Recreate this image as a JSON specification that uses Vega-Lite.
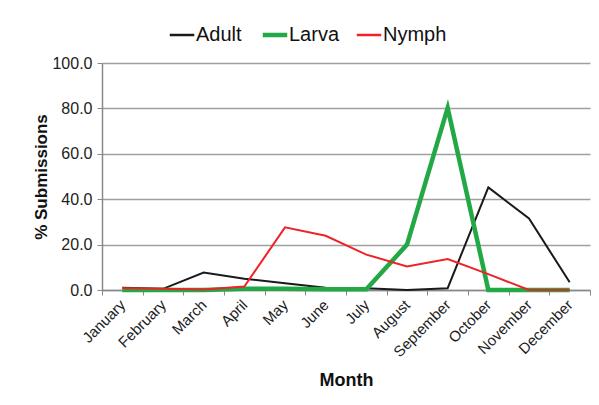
{
  "$schema": "https://vega.github.io/schema/vega-lite/v6.json",
  "autosize": "none",
  "width": 488,
  "height": 227,
  "padding": {"left": 102, "top": 63, "right": 9, "bottom": 115},
  "background": "white",
  "config": {
    "font": "Liberation Sans",
    "view": {"stroke": null}
  },
  "data": {
    "values": [
      {"Month": "January", "Stage": "Adult", "Pct": 1.0},
      {"Month": "February", "Stage": "Adult", "Pct": 0.5},
      {"Month": "March", "Stage": "Adult", "Pct": 7.7},
      {"Month": "April", "Stage": "Adult", "Pct": 5.0},
      {"Month": "May", "Stage": "Adult", "Pct": 3.0},
      {"Month": "June", "Stage": "Adult", "Pct": 1.0},
      {"Month": "July", "Stage": "Adult", "Pct": 0.8},
      {"Month": "August", "Stage": "Adult", "Pct": 0.0},
      {"Month": "September", "Stage": "Adult", "Pct": 0.8},
      {"Month": "October", "Stage": "Adult", "Pct": 45.2},
      {"Month": "November", "Stage": "Adult", "Pct": 31.5},
      {"Month": "December", "Stage": "Adult", "Pct": 3.4},
      {"Month": "January", "Stage": "Larva", "Pct": 0.0},
      {"Month": "February", "Stage": "Larva", "Pct": 0.0},
      {"Month": "March", "Stage": "Larva", "Pct": 0.0},
      {"Month": "April", "Stage": "Larva", "Pct": 0.5},
      {"Month": "May", "Stage": "Larva", "Pct": 0.5},
      {"Month": "June", "Stage": "Larva", "Pct": 0.3},
      {"Month": "July", "Stage": "Larva", "Pct": 0.3},
      {"Month": "August", "Stage": "Larva", "Pct": 20.0},
      {"Month": "September", "Stage": "Larva", "Pct": 80.2},
      {"Month": "October", "Stage": "Larva", "Pct": 0.0},
      {"Month": "November", "Stage": "Larva", "Pct": 0.0},
      {"Month": "December", "Stage": "Larva", "Pct": 0.0},
      {"Month": "January", "Stage": "Nymph", "Pct": 0.8},
      {"Month": "February", "Stage": "Nymph", "Pct": 0.5},
      {"Month": "March", "Stage": "Nymph", "Pct": 0.2},
      {"Month": "April", "Stage": "Nymph", "Pct": 1.5},
      {"Month": "May", "Stage": "Nymph", "Pct": 27.6},
      {"Month": "June", "Stage": "Nymph", "Pct": 23.9},
      {"Month": "July", "Stage": "Nymph", "Pct": 15.6},
      {"Month": "August", "Stage": "Nymph", "Pct": 10.4},
      {"Month": "September", "Stage": "Nymph", "Pct": 13.6},
      {"Month": "October", "Stage": "Nymph", "Pct": 7.0},
      {"Month": "November", "Stage": "Nymph", "Pct": 0.0},
      {"Month": "December", "Stage": "Nymph", "Pct": 0.0}
    ]
  },
  "mark": {"type": "line", "strokeJoin": "miter"},
  "encoding": {
    "x": {
      "field": "Month",
      "type": "nominal",
      "sort": ["January","February","March","April","May","June","July","August","September","October","November","December"],
      "scale": {"type": "band", "paddingInner": 0, "paddingOuter": 0},
      "axis": {
        "title": "Month",
        "titleFontSize": 18,
        "titleFontWeight": "bold",
        "titleColor": "#111",
        "titlePadding": 12,
        "labelAngle": -45,
        "labelAlign": "right",
        "labelBaseline": "middle",
        "labelFontSize": 15,
        "labelColor": "#222",
        "labelPadding": 7,
        "tickBand": "extent",
        "tickSize": 5,
        "tickColor": "#888",
        "domainColor": "#888",
        "domainWidth": 1.5,
        "grid": false
      }
    },
    "y": {
      "field": "Pct",
      "type": "quantitative",
      "scale": {"domain": [0, 100], "nice": false},
      "axis": {
        "title": "% Submissions",
        "titleFontSize": 17,
        "titleFontWeight": "bold",
        "titleColor": "#111",
        "titlePadding": 1,
        "format": ".1f",
        "values": [0, 20, 40, 60, 80, 100],
        "labelFontSize": 16,
        "labelColor": "#222",
        "labelPadding": 5,
        "tickSize": 5,
        "tickColor": "#888",
        "domainColor": "#888",
        "domainWidth": 1.5,
        "grid": true,
        "gridColor": "#a0a0a0",
        "gridWidth": 1.5
      }
    },
    "color": {
      "field": "Stage",
      "type": "nominal",
      "scale": {"domain": ["Adult", "Larva", "Nymph"], "range": ["#1a1a1a", "#22a844", "#ee2228"]},
      "legend": {
        "title": null,
        "orient": "none",
        "legendX": 70,
        "legendY": -38,
        "direction": "horizontal",
        "symbolType": "stroke",
        "symbolSize": 600,
        "symbolStrokeWidth": 2.5,
        "labelFontSize": 20,
        "labelOffset": 4,
        "labelColor": "#111",
        "columnPadding": 11,
        "encode": {
          "symbols": {"update": {"strokeWidth": {"signal": "datum.value === 'Larva' ? 4.5 : 2.5"}}}
        }
      }
    },
    "strokeWidth": {
      "condition": {"test": "datum.Stage === 'Larva'", "value": 4.5},
      "value": 2
    }
  }
}
